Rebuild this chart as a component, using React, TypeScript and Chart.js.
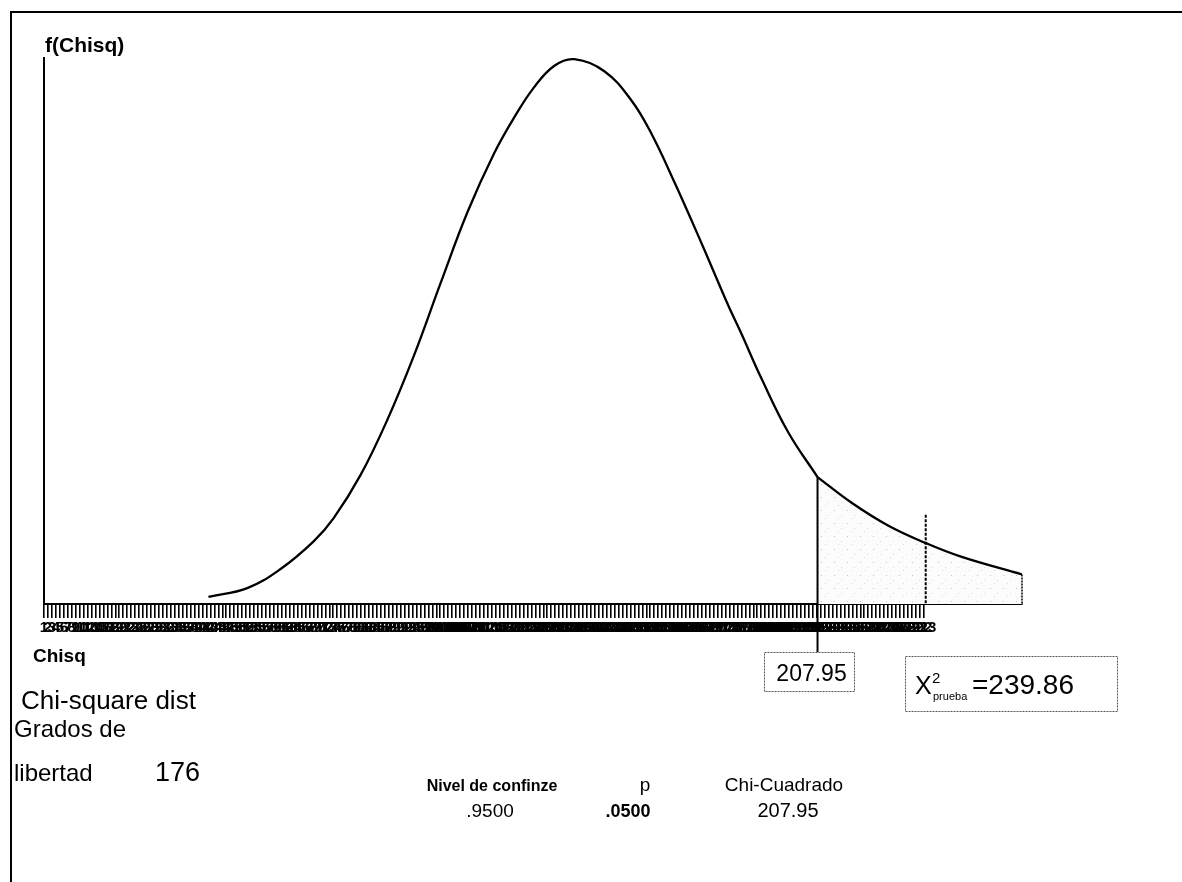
import React, { useEffect, useRef } from "react";
import { Chart, registerables } from "chart.js";

Chart.register(...registerables);

// ---- data (x in axis-tick units, y as relative density) ----
const curveX = [42.5, 52.3, 60.7, 69.1, 74.1, 80.9, 87.6, 94.4, 101.1, 107.9, 114.6, 119.7, 124.7, 129.8, 134.8, 142.4, 149.2, 154.2, 160.1, 166.9, 173.6, 177.0, 182.0, 188.8, 196.2, 204.8, 214.1, 223.3, 232.6, 247.8];
const curveY = [0.013, 0.029, 0.064, 0.115, 0.157, 0.236, 0.336, 0.455, 0.587, 0.717, 0.824, 0.89, 0.945, 0.984, 0.996, 0.974, 0.921, 0.861, 0.771, 0.66, 0.547, 0.494, 0.413, 0.314, 0.232, 0.185, 0.143, 0.112, 0.086, 0.054];

const tickFirst = 1;
const tickLast = 223;
const tickLabels = Array.from({ length: tickLast - tickFirst + 1 }, (_, i) => tickFirst + i);

const critPos = 196.2; // axis position of the critical value
const testPos = 223.5; // axis position of the test statistic
const testLineTop = 0.163;

const critLabel = "207.95";
const testLabel = "=239.86";
const dfLabel = "176";
const tableHeaders = ["Nivel de confinze", "p", "Chi-Cuadrado"];
const tableValues = [".9500", ".0500", "207.95"];

const FONT = "'Liberation Sans', Arial, Helvetica, sans-serif";

export default function App() {
  const ref = useRef<HTMLCanvasElement | null>(null);

  useEffect(() => {
    const canvas = ref.current;
    if (!canvas) return;

    const pc = document.createElement("canvas");
    pc.width = 13;
    pc.height = 13;
    const pctx = pc.getContext("2d")!;
    pctx.fillStyle = "#fcfcfc";
    pctx.fillRect(0, 0, 13, 13);
    pctx.fillStyle = "#c4c4c4";
    pctx.fillRect(2, 3, 1, 1);
    pctx.fillStyle = "#dcdcdc";
    pctx.fillRect(9, 8, 1, 1);
    pctx.fillRect(6, 11, 1, 1);
    const pattern = canvas.getContext("2d")!.createPattern(pc, "repeat");

    const pts = curveX.map((x, i) => ({ x, y: curveY[i] }));
    const body = pts.filter((p) => p.x <= critPos);
    const tail = pts.filter((p) => p.x >= critPos);

    const txt = (
      ctx: CanvasRenderingContext2D,
      s: string,
      x: number,
      y: number,
      font: string,
      align: CanvasTextAlign = "left"
    ) => {
      ctx.font = font;
      ctx.textAlign = align;
      ctx.textBaseline = "alphabetic";
      ctx.fillStyle = "#000";
      ctx.fillText(s, x, y);
    };

    const deco = {
      id: "deco",
      beforeDraw(chart: any) {
        const ctx = chart.ctx as CanvasRenderingContext2D;
        ctx.save();
        ctx.fillStyle = "#fff";
        ctx.fillRect(0, 0, chart.width, chart.height);
        ctx.strokeStyle = "#000";
        ctx.lineWidth = 2;
        ctx.beginPath();
        ctx.moveTo(11, 882);
        ctx.lineTo(11, 12);
        ctx.lineTo(1182, 12);
        ctx.stroke();
        ctx.restore();
      },
      afterDatasetsDraw(chart: any) {
        const ctx = chart.ctx as CanvasRenderingContext2D;
        const xs = chart.scales.x;
        const ys = chart.scales.y;
        ctx.save();
        ctx.strokeStyle = "#000";
        // y axis line
        ctx.lineWidth = 2;
        ctx.beginPath();
        ctx.moveTo(xs.left, ys.top);
        ctx.lineTo(xs.left, ys.bottom);
        ctx.stroke();

        // critical value line
        const tailMeta = chart.getDatasetMeta(1);
        const first = tailMeta.data[0];
        const cx = first.x;
        ctx.lineWidth = 2;
        ctx.beginPath();
        ctx.moveTo(cx, first.y);
        ctx.lineTo(cx, 652);
        ctx.stroke();

        // right end of shaded region
        const last = tailMeta.data[tailMeta.data.length - 1];
        ctx.setLineDash([2, 1]);
        ctx.lineWidth = 1.5;
        ctx.beginPath();
        ctx.moveTo(last.x, last.y);
        ctx.lineTo(last.x, ys.bottom);
        ctx.stroke();

        // test statistic line
        const tx = xs.getPixelForValue(testPos);
        ctx.setLineDash([3, 1.5]);
        ctx.lineWidth = 2;
        ctx.beginPath();
        ctx.moveTo(tx, ys.getPixelForValue(testLineTop));
        ctx.lineTo(tx, ys.bottom);
        ctx.stroke();
        ctx.setLineDash([]);

        // texts
        txt(ctx, "f(Chisq)", 45, 52, `bold 21px ${FONT}`);
        txt(ctx, "Chisq", 33, 662, `bold 19px ${FONT}`);
        txt(ctx, "Chi-square dist", 21, 709, `26px ${FONT}`);
        txt(ctx, "Grados de", 14, 737, `24px ${FONT}`);
        txt(ctx, "libertad", 14, 781, `24px ${FONT}`);
        txt(ctx, dfLabel, 155, 781, `27px ${FONT}`);

        txt(ctx, tableHeaders[0], 492, 791, `bold 16px ${FONT}`, "center");
        txt(ctx, tableHeaders[1], 645, 791, `19px ${FONT}`, "center");
        txt(ctx, tableHeaders[2], 784, 791, `19px ${FONT}`, "center");
        txt(ctx, tableValues[0], 490, 817, `19px ${FONT}`, "center");
        txt(ctx, tableValues[1], 628, 817, `bold 18px ${FONT}`, "center");
        txt(ctx, tableValues[2], 788, 817, `20px ${FONT}`, "center");

        // critical value box
        ctx.strokeStyle = "#555";
        ctx.lineWidth = 1;
        ctx.setLineDash([2, 1]);
        ctx.strokeRect(Math.round(cx) - 53.5, 652.5, 90, 39);
        ctx.strokeRect(905.5, 656.5, 212, 55);
        ctx.setLineDash([]);
        txt(ctx, critLabel, cx - 6, 681, `23px ${FONT}`, "center");

        // test statistic box
        txt(ctx, "X", 915, 694, `25px ${FONT}`);
        txt(ctx, "2", 932, 683, `15px ${FONT}`);
        txt(ctx, "prueba", 933, 700, `11px ${FONT}`);
        txt(ctx, testLabel, 972, 694, `28px ${FONT}`);
        ctx.restore();
      },
    };

    const chart = new Chart(canvas, {
      type: "line",
      data: {
        datasets: [
          {
            data: body,
            borderColor: "#000",
            borderWidth: 2.3,
            pointRadius: 0,
            tension: 0.4,
            fill: false,
            order: 0,
          },
          {
            data: tail,
            borderWidth: 2.3,
            borderColor: "#000",
            backgroundColor: pattern || "#f4f4f4",
            pointRadius: 0,
            tension: 0.4,
            fill: "origin",
            order: 1,
          },
        ],
      },
      options: {
        responsive: false,
        animation: false,
        events: [],
        layout: { padding: { left: 44, top: 57, right: 160, bottom: 238 } },
        plugins: { legend: { display: false }, tooltip: { enabled: false }, title: { display: false } },
        scales: {
          x: {
            type: "linear",
            min: tickFirst,
            max: curveX[curveX.length - 1],
            afterBuildTicks: (s: any) => {
              s.ticks = tickLabels.map((v) => ({ value: v }));
            },
            afterFit: (s: any) => {
              s.height = 40;
            },
            ticks: {
              autoSkip: false,
              maxRotation: 0,
              minRotation: 0,
              padding: 1,
              color: "#000",
              font: { family: FONT, size: 15, weight: "bold" },
              callback: (v: any) => String(v),
            },
            grid: {
              drawOnChartArea: false,
              drawTicks: true,
              tickLength: 14,
              color: "#000",
              lineWidth: 1.6,
            },
            border: { display: true, color: "#000", width: 2 },
          },
          y: { type: "linear", display: false, min: 0, max: 1 },
        },
      },
      plugins: [deco],
    } as any);

    return () => chart.destroy();
  }, []);

  return (
    <div style={{ position: "fixed", left: 0, top: 0, width: 1182, height: 882, background: "#fff" }}>
      <canvas ref={ref} width={1182} height={882} style={{ display: "block" }} />
    </div>
  );
}
